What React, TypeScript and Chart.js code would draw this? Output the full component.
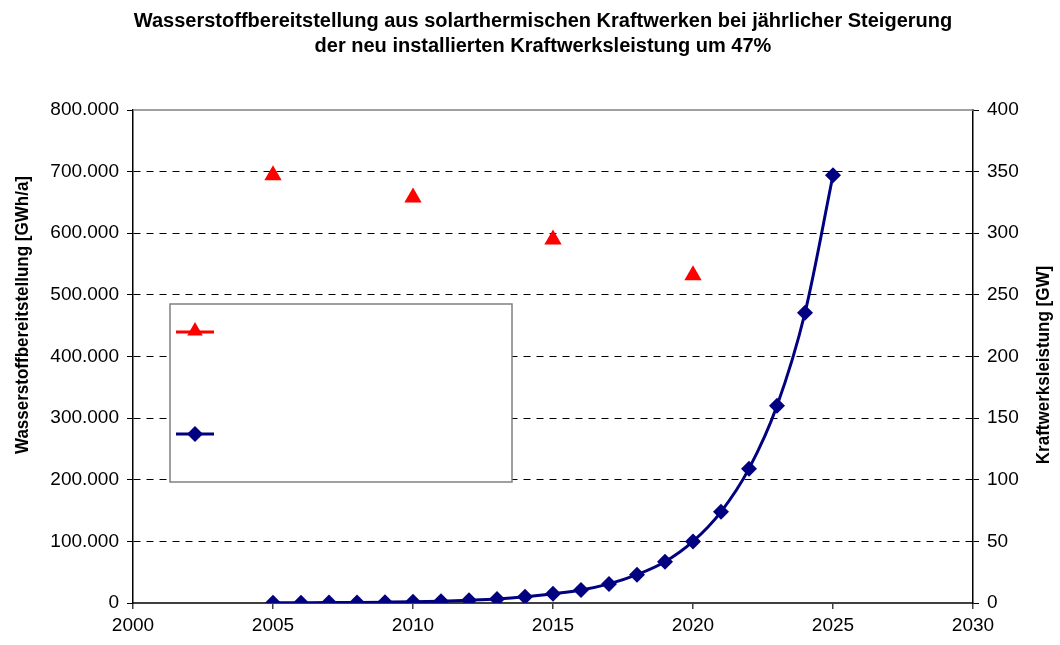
import React, { useEffect, useRef } from 'react';
import { Chart, registerables } from 'chart.js';

Chart.register(...registerables);

const years = [2005, 2006, 2007, 2008, 2009, 2010, 2011, 2012, 2013, 2014, 2015, 2016, 2017, 2018, 2019, 2020, 2021, 2022, 2023, 2024, 2025];
const hydrogenValues = [300, 450, 650, 950, 1400, 2000, 3000, 4500, 6500, 10000, 15000, 21000, 31000, 46000, 67000, 100000, 148000, 218000, 320000, 471000, 694000];
const redYears = [2005, 2010, 2015, 2020];
const redValues = [347, 329, 295, 266];
const xTickValues = [2000, 2005, 2010, 2015, 2020, 2025, 2030];
const titleLines = [
  'Wasserstoffbereitstellung aus solarthermischen Kraftwerken bei jährlicher Steigerung',
  'der neu installierten Kraftwerksleistung um 47%',
];
const leftAxisTitle = 'Wasserstoffbereitstellung [GWh/a]';
const rightAxisTitle = 'Kraftwerksleistung [GW]';

const FONT = "'Liberation Sans', Arial, sans-serif";
const NAVY = '#000080';
const RED = '#FF0000';

const textPlugin = {
  id: 'customTexts',
  afterDraw(chart: any) {
    const ctx = chart.ctx;
    ctx.save();
    ctx.fillStyle = '#000';
    ctx.font = `bold 20px ${FONT}`;
    ctx.textAlign = 'center';
    ctx.textBaseline = 'middle';
    ctx.fillText(titleLines[0], 543, 21);
    ctx.fillText(titleLines[1], 543, 46);

    ctx.font = `bold 17px ${FONT}`;
    ctx.save();
    ctx.translate(23, 315);
    ctx.rotate(-Math.PI / 2);
    ctx.scale(1, 1.12);
    ctx.fillText(leftAxisTitle, 0, 0);
    ctx.restore();

    ctx.save();
    ctx.translate(1044, 365);
    ctx.rotate(-Math.PI / 2);
    ctx.scale(1, 1.12);
    ctx.fillText(rightAxisTitle, 0, 0);
    ctx.restore();
    ctx.restore();
  },
};

function diamond(ctx: CanvasRenderingContext2D, x: number, y: number, r: number) {
  ctx.beginPath();
  ctx.moveTo(x, y - r);
  ctx.lineTo(x + r, y);
  ctx.lineTo(x, y + r);
  ctx.lineTo(x - r, y);
  ctx.closePath();
  ctx.fill();
}

function triangle(ctx: CanvasRenderingContext2D, x: number, y: number, r: number) {
  ctx.beginPath();
  ctx.moveTo(x, y - r);
  ctx.lineTo(x + r * 0.866, y + r * 0.5);
  ctx.lineTo(x - r * 0.866, y + r * 0.5);
  ctx.closePath();
  ctx.fill();
}

const framePlugin = {
  id: 'frameAndLegend',
  beforeDatasetsDraw(chart: any) {
    const { ctx, chartArea } = chart;
    ctx.save();
    ctx.strokeStyle = '#808080';
    ctx.lineWidth = 1.5;
    ctx.beginPath();
    ctx.moveTo(chartArea.left, chartArea.top);
    ctx.lineTo(chartArea.right, chartArea.top);
    ctx.stroke();
    const bx = chartArea.left + 37;
    const by = chartArea.top + 194;
    const bw = 342;
    const bh = 178;
    ctx.fillStyle = '#fff';
    ctx.fillRect(bx, by, bw, bh);
    ctx.strokeStyle = '#808080';
    ctx.lineWidth = 1.5;
    ctx.strokeRect(bx, by, bw, bh);
    ctx.strokeStyle = RED;
    ctx.lineWidth = 3;
    ctx.beginPath();
    ctx.moveTo(bx + 6, by + 28);
    ctx.lineTo(bx + 44, by + 28);
    ctx.stroke();
    ctx.fillStyle = RED;
    triangle(ctx, bx + 25, by + 27, 9);
    ctx.strokeStyle = NAVY;
    ctx.beginPath();
    ctx.moveTo(bx + 6, by + 130);
    ctx.lineTo(bx + 44, by + 130);
    ctx.stroke();
    ctx.fillStyle = NAVY;
    diamond(ctx, bx + 25, by + 130, 8);
    ctx.restore();
  },
};

export default function App() {
  const canvasRef = useRef<HTMLCanvasElement | null>(null);

  useEffect(() => {
    document.body.style.margin = '0';
    const canvas = canvasRef.current;
    if (!canvas) return;
    const chart = new Chart(canvas, {
      type: 'line',
      data: {
        datasets: [
          {
            label: 'Wasserstoffbereitstellung',
            data: years.map((x, i) => ({ x, y: hydrogenValues[i] })),
            yAxisID: 'y',
            borderColor: NAVY,
            backgroundColor: NAVY,
            borderWidth: 3,
            pointStyle: 'rectRot',
            pointRadius: 8,
            pointBorderWidth: 0,
            tension: 0.4,
            cubicInterpolationMode: 'monotone',
          },
          {
            label: 'Kraftwerksleistung',
            data: redYears.map((x, i) => ({ x, y: redValues[i] })),
            yAxisID: 'y2',
            showLine: false,
            borderColor: RED,
            backgroundColor: RED,
            pointStyle: 'triangle',
            pointRadius: 10,
            pointBorderWidth: 0,
          },
        ],
      },
      plugins: [framePlugin, textPlugin],
      options: {
        animation: false,
        responsive: false,
        layout: { padding: { top: 110, left: 0, right: 0, bottom: 0 } },
        plugins: {
          legend: { display: false },
          tooltip: { enabled: false },
          title: { display: false },
        },
        scales: {
          x: {
            type: 'linear',
            min: 2000,
            max: 2030,
            afterFit: (s: any) => { s.height = 42; },
            afterBuildTicks: (s: any) => {
              s.ticks = xTickValues.map((v) => ({ value: v }));
            },
            ticks: {
              callback: (v: any) => String(v),
              color: '#000',
              font: { family: FONT, size: 19 },
              padding: 5,
              maxRotation: 0,
            },
            grid: {
              drawOnChartArea: false,
              drawTicks: true,
              tickLength: 6,
              tickColor: '#404040',
              lineWidth: 1.5,
            },
            border: { display: true, color: '#404040', width: 2 },
          },
          y: {
            type: 'linear',
            position: 'left',
            min: 0,
            max: 800000,
            afterFit: (s: any) => { s.width = 133; },
            ticks: {
              stepSize: 100000,
              callback: (v: any) => Number(v).toLocaleString('de-DE'),
              color: '#000',
              font: { family: FONT, size: 19 },
              padding: 8,
            },
            grid: {
              color: (c: any) => (c.tick && (c.tick.value === 0 || c.tick.value === 800000) ? 'rgba(0,0,0,0)' : '#000'),
              lineWidth: 1,
              tickLength: 6,
              tickColor: '#000',
            },
            border: { display: true, color: '#000', width: 1.5, dash: [7, 6] },
          },
          y2: {
            type: 'linear',
            position: 'right',
            min: 0,
            max: 400,
            afterFit: (s: any) => { s.width = 87; },
            ticks: {
              stepSize: 50,
              color: '#000',
              font: { family: FONT, size: 19 },
              padding: 8,
            },
            grid: {
              drawOnChartArea: false,
              tickLength: 6,
              tickColor: '#000',
            },
            border: { display: true, color: '#000', width: 1.5 },
          },
        },
      },
    } as any);
    return () => chart.destroy();
  }, []);

  return (
    <div style={{ width: 1060, height: 645, position: 'relative' }}>
      <canvas ref={canvasRef} width={1060} height={645} style={{ display: 'block' }} />
    </div>
  );
}
